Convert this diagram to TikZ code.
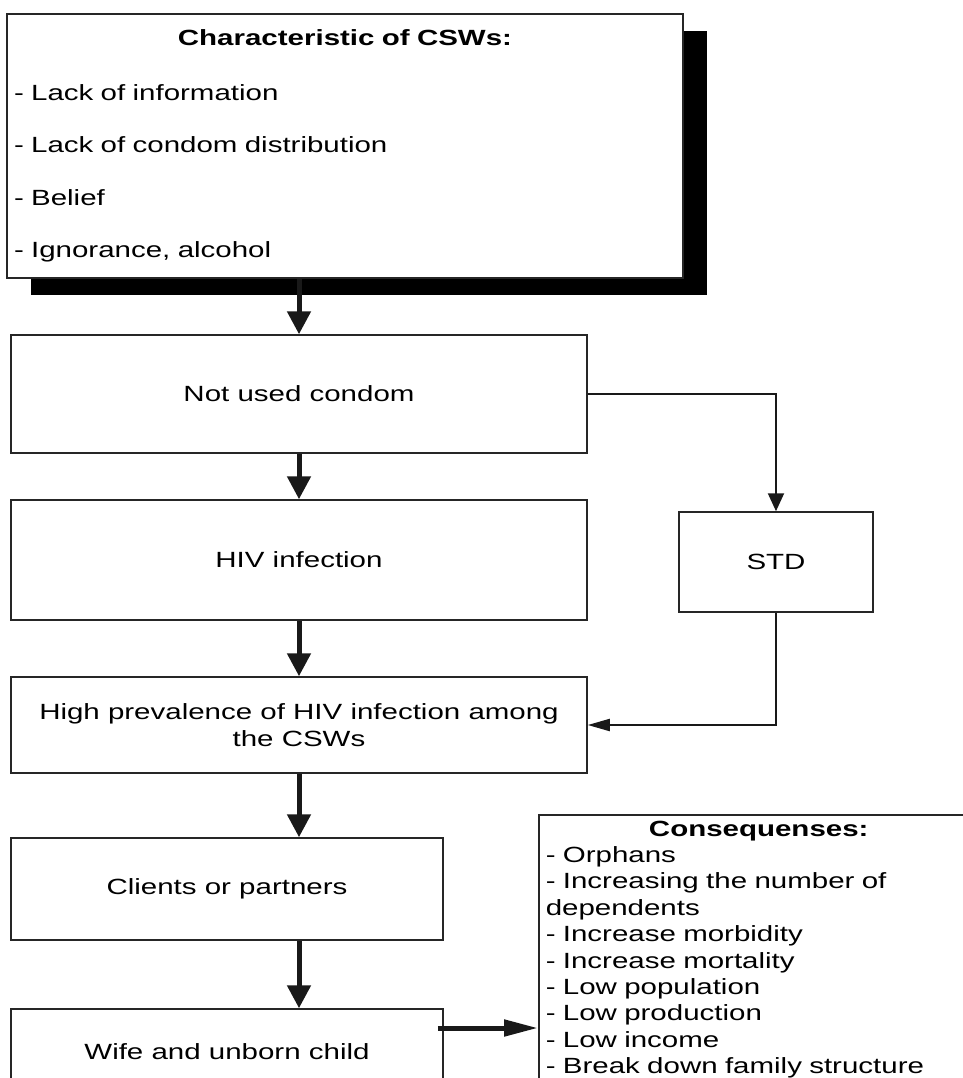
\documentclass[tikz,border=0pt]{standalone}
\usepackage{fontspec}
\setmainfont{Liberation Sans}[FakeStretch=1.34]
\usetikzlibrary{arrows.meta,shadows,positioning}

\begin{document}
\begin{tikzpicture}
    [x=0.5pt, y=-0.5pt,
     font=\fontsize{11}{13.2}\selectfont,
     box/.style={rectangle,draw=black!85,line width=0.75pt,fill=white,inner sep=3.5pt},
     mainflow/.style={-{Triangle[length=11.5pt,width=11.5pt]},line width=2.5pt,black!90},
     sideflow/.style={-{Triangle[length=9pt,width=8pt]},line width=1pt,black!90}]
    \useasboundingbox (0,0) rectangle (963,1078);
    \clip (0,0) rectangle (963,1078);
    \node (csw) at (345,146) [box, minimum width=338pt, minimum height=132pt,
        text width=331pt, align=left,
        drop shadow={shadow xshift=12pt, shadow yshift=-8.5pt, fill=black, opacity=1}]
        {\makebox[\linewidth]{\bfseries Characteristic of CSWs:}\\[14pt]
         - Lack of information\\[13pt]
         - Lack of condom distribution\\[13pt]
         - Belief\\[13pt]
         - Ignorance, alcohol};
    \node (nuc) at (299,394) [box, minimum width=288pt, minimum height=59pt] {Not used condom};
    \node (hiv) at (299,560) [box, minimum width=288pt, minimum height=60pt] {HIV infection};
    \node (std) at (776,562) [box, minimum width=97pt, minimum height=50pt] {STD};
    \node (high) at (299,725) [box, minimum width=288pt, minimum height=48pt, align=center]
        {High prevalence of HIV infection among\\the CSWs};
    \node (clients) at (227,889) [box, minimum width=216pt, minimum height=51pt] {Clients or partners};
    \node (wife) at (227,1052) [box, minimum width=216pt, minimum height=43pt] {Wife and unborn child};
    \node (cons) at (538,814) [box, anchor=north west, text width=213pt, align=left, inner ysep=3pt]
        {\makebox[\linewidth]{\bfseries Consequenses:}\\
         - Orphans\\
         - Increasing the number of\\
         dependents\\
         - Increase morbidity\\
         - Increase mortality\\
         - Low population\\
         - Low production\\
         - Low income\\
         - Break down family structure};

    \draw [mainflow] (nuc.north |- csw.south) -- (nuc);
    \draw [mainflow] (nuc) -- (hiv);
    \draw [mainflow] (hiv) -- (high);
    \draw [mainflow] (high.south) -- (high.south |- clients.north);
    \draw [mainflow] (high.south |- clients.south) -- (high.south |- wife.north);
    \draw [sideflow] (nuc) -| (std);
    \draw [sideflow, -{Triangle[length=11pt,width=6pt]}] (std) |- (high);
    \draw [line width=2.5pt, black!90, -{Triangle[length=17pt,width=8pt]}]
        ([xshift=-3pt,yshift=12pt]wife.east) -- ([yshift=12pt]wife.east -| cons.west);
\end{tikzpicture}
\end{document}
